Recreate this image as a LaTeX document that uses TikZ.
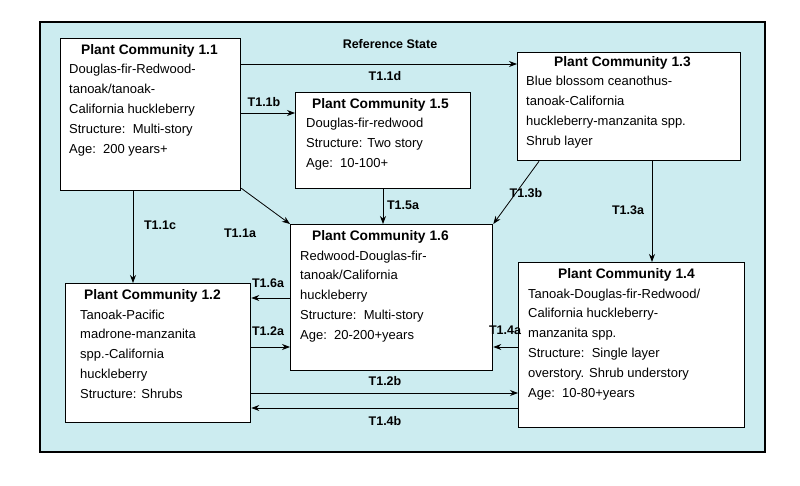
\documentclass[tikz,border=0pt]{standalone}
\usepackage{fontspec}
\setmainfont{Liberation Sans}
\usetikzlibrary{arrows.meta}
\newcommand\ttlf{\bfseries\fontsize{13.8}{16}\selectfont}
\begin{document}
\begin{tikzpicture}[x=1pt,y=-1pt,
  box/.style={draw=black,line width=1.3pt,fill=white,anchor=north west,inner sep=0pt},
  txt/.style={anchor=north west,align=left,inner sep=0pt,font=\fontsize{13}{19.8}\selectfont},
  arr/.style={-{Stealth[length=8pt,width=6pt]},line width=0.8pt},
  lab/.style={font=\bfseries\fontsize{12.5}{14}\selectfont,inner sep=1pt}]
\useasboundingbox (0,0) rectangle (800,486);
\fill[white] (0,0) rectangle (800,486);
\draw[fill={rgb,255:red,204;green,236;blue,240},line width=1.3pt] (40,22) rectangle (765,452);
\node[lab] (ref) at (390,44) {Reference State};
% boxes
\node[box,minimum width=180pt,minimum height=152pt] (b11) at (60,38) {};
\node[box,minimum width=175pt,minimum height=96pt] (b15) at (295,92) {};
\node[box,minimum width=223pt,minimum height=108pt] (b13) at (517,52) {};
\node[box,minimum width=202pt,minimum height=146pt] (b16) at (290,224) {};
\node[box,minimum width=185pt,minimum height=139pt] (b12) at (65,283) {};
\node[box,minimum width=226pt,minimum height=165pt] (b14) at (518,262) {};
% texts
\node[txt] (t11) at (69,44) {\hspace*{12pt}{\ttlf Plant Community 1.1}\\Douglas-fir-Redwood-\\tanoak/tanoak-\\California huckleberry\\Structure:\ \ Multi-story\\Age:\ \ 200 years+};
\node[txt] (t15) at (306,98) {\hspace*{6pt}{\ttlf Plant Community 1.5}\\Douglas-fir-redwood\\Structure: Two story\\Age:\ \ 10-100+};
\node[txt] (t13) at (526,56) {\hspace*{28pt}{\ttlf Plant Community 1.3}\\Blue blossom ceanothus-\\tanoak-California\\huckleberry-manzanita spp.\\Shrub layer};
\node[txt] (t16) at (300,230) {\hspace*{12pt}{\ttlf Plant Community 1.6}\\Redwood-Douglas-fir-\\tanoak/California\\huckleberry\\Structure:\ \ Multi-story\\Age:\ \ 20-200+years};
\node[txt] (t12) at (80,289) {\hspace*{4pt}{\ttlf Plant Community 1.2}\\Tanoak-Pacific\\madrone-manzanita\\spp.-California\\huckleberry\\Structure: Shrubs};
\node[txt] (t14) at (528,268) {\hspace*{30pt}{\ttlf Plant Community 1.4}\\Tanoak-Douglas-fir-Redwood/\\California huckleberry-\\manzanita spp.\\Structure:\ \ Single layer\\overstory. Shrub understory\\Age:\ \ 10-80+years};
% arrows
\draw[arr] (b11.north east |- 0,64) -- (b13.north west |- 0,64);
\node[lab] (l11d) at (385,76) {T1.1d};
\draw[arr] (b11.north east |- 0,113) -- (b15.north west |- 0,113);
\node[lab] (l11b) at (264,102) {T1.1b};
\draw[arr] (b11.south west -| 133,0) -- (b12.north west -| 133,0);
\node[lab] (l11c) at (160,225) {T1.1c};
\coordinate (c1) at ([yshift=3pt]b11.south east);
\draw[arr] (c1) -- (b16.north west);
\node[lab] (l11a) at (240,233) {T1.1a};
\draw[arr] (b15.south west -| 383,0) -- (b16.north west -| 383,0);
\node[lab] (l15a) at (403,205) {T1.5a};
\coordinate (c2) at ([xshift=22pt]b13.south west);
\draw[arr] (c2) -- (b16.north east);
\node[lab] (l13b) at (526,193) {T1.3b};
\draw[arr] (b13.south west -| 652,0) -- (b14.north west -| 652,0);
\node[lab] (l13a) at (628,210) {T1.3a};
\draw[arr] (b16.north west |- 0,298) -- (b12.north east |- 0,298);
\node[lab] (l16a) at (268,283) {T1.6a};
\draw[arr] (b12.north east |- 0,347) -- (b16.north west |- 0,347);
\node[lab] (l12a) at (268,331) {T1.2a};
\draw[arr] (b14.north west |- 0,347) -- (b16.north east |- 0,347);
\node[lab] (l14a) at (505,330) {T1.4a};
\draw[arr] (b12.north east |- 0,393) -- (b14.north west |- 0,393);
\node[lab] (l12b) at (385,381) {T1.2b};
\draw[arr] (b14.north west |- 0,408) -- (b12.north east |- 0,408);
\node[lab] (l14b) at (385,421) {T1.4b};
\end{tikzpicture}
\end{document}
